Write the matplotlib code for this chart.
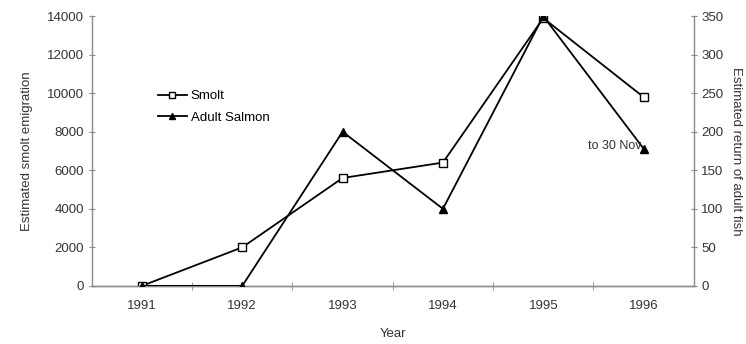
import matplotlib
matplotlib.use("Agg")
import matplotlib.pyplot as plt
from matplotlib.lines import Line2D

plt.rcParams['font.family'] = ['Liberation Sans', 'DejaVu Sans']

# ---- Data ----
years = ["1991", "1992", "1993", "1994", "1995", "1996"]
smolt = [0, 2000, 5600, 6400, 13900, 9800]
adult = [0, 0, 200, 100, 350, 178]

grey = "#8a8a8a"
txt = "#333333"
fs = 9.5

fig = plt.figure(figsize=(7.46, 3.44), dpi=100)
ax = fig.add_axes([0.123, 0.169, 0.807, 0.784])
ax2 = ax.twinx()

x = range(len(years))
ax.plot(x, smolt, color="black", lw=1.3, marker="s", ms=6,
        mfc="white", mec="black", mew=1, zorder=3)
ax2.plot(x, adult, color="black", lw=1.3, marker="^", ms=6,
         mfc="black", mec="black", zorder=3)

ax.set_xlim(-0.5, len(years) - 0.5)
ax.set_ylim(0, 14000)
ax2.set_ylim(0, 350)
ax.set_yticks(range(0, 14001, 2000))
ax2.set_yticks(range(0, 351, 50))
ax.set_xticks(list(x))
ax.set_xticklabels(years)
ax.set_xticks([i + 0.5 for i in range(len(years) - 1)], minor=True)

for a in (ax, ax2):
    a.spines["top"].set_visible(False)
    for s in a.spines.values():
        s.set_color(grey)
        s.set_linewidth(1)
    a.tick_params(axis="y", direction="inout", length=5, color=grey,
                  labelsize=fs, labelcolor=txt, pad=3)
ax.spines["right"].set_visible(False)
ax2.spines["left"].set_visible(False)
ax.tick_params(axis="x", which="major", length=0, pad=10, labelsize=fs,
               labelcolor=txt)
ax.tick_params(axis="x", which="minor", direction="inout", length=6, color=grey)

ax.set_xlabel("Year", fontsize=fs, labelpad=12, color=txt)
ax.set_ylabel("Estimated smolt emigration", fontsize=fs, labelpad=10, color=txt)
ax2.set_ylabel("Estimated return of adult fish", fontsize=fs, color=txt,
               rotation=-90, labelpad=13)

# note next to the last adult point
ax2.text(5.0, adult[-1] + 4, "to 30 Nov.", fontsize=9, ha="right", va="center",
         color=txt)

handles = [
    Line2D([], [], color="black", lw=1.3, marker="s", ms=5, mfc="white", mec="black"),
    Line2D([], [], color="black", lw=1.3, marker="^", ms=5, mfc="black"),
]
ax.legend(handles, ["Smolt", "Adult Salmon"], loc="upper left",
          bbox_to_anchor=(0.09, 0.77), frameon=False, fontsize=fs,
          handlelength=2.2, handletextpad=0.3, labelspacing=0.7)

fig.savefig("out.png", dpi=100)
